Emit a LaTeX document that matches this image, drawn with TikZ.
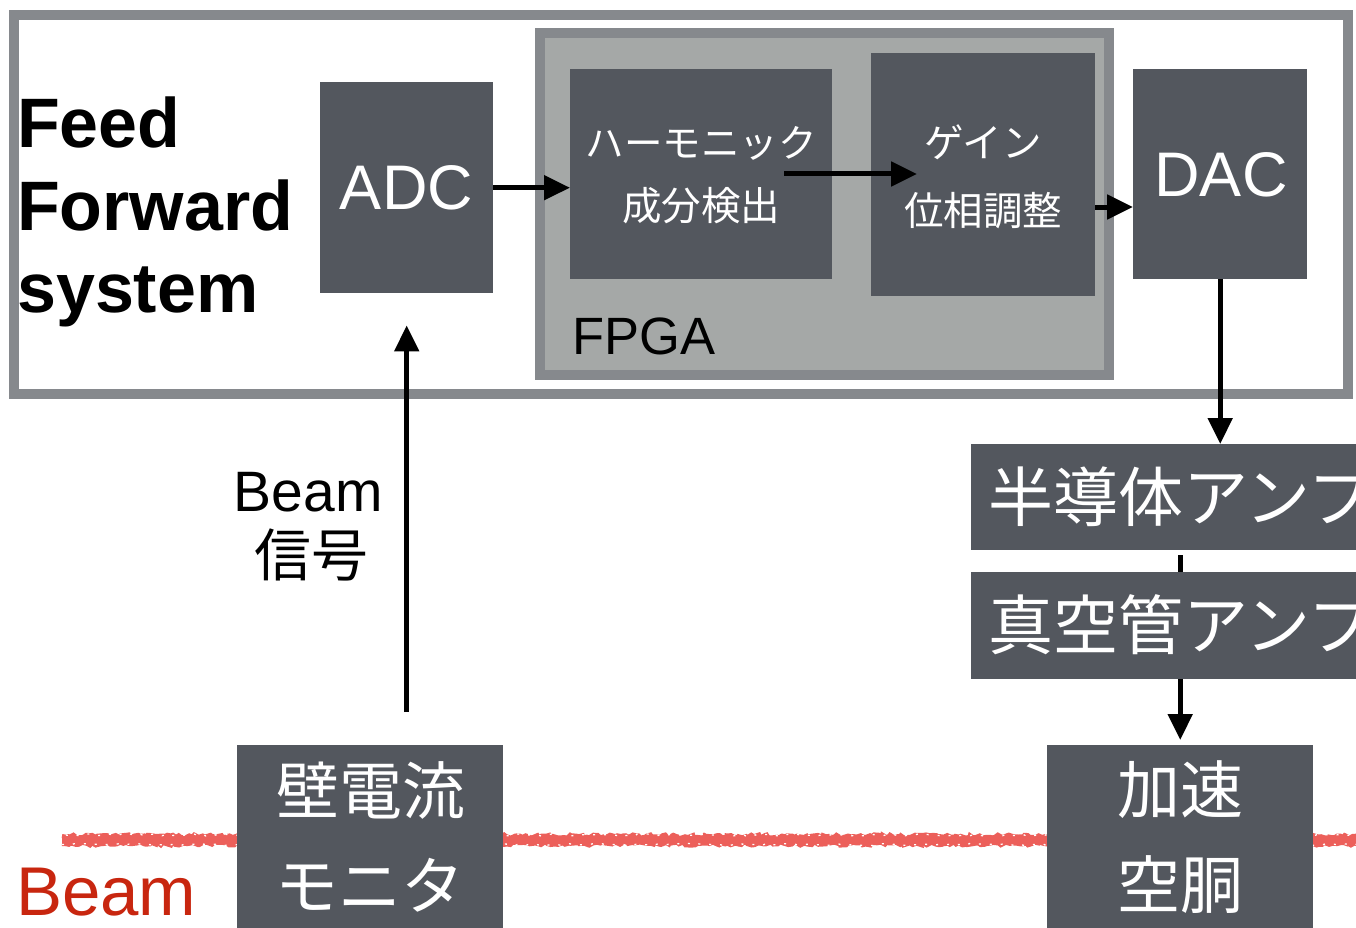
\documentclass[tikz,border=0pt]{standalone}
\usepackage{fontspec}
\setmainfont{Liberation Sans}
\newfontfamily\jp{Noto Sans CJK JP}
\usetikzlibrary{arrows.meta,decorations.pathmorphing}
\definecolor{framegray}{HTML}{86898D}
\definecolor{fpgafill}{HTML}{A5A8A7}
\definecolor{boxdark}{HTML}{53575E}
\definecolor{beamred}{HTML}{EC5F5A}
\definecolor{beamtext}{HTML}{C8260F}
\tikzset{
  darkbox/.style={fill=boxdark, draw=none, anchor=north west, inner sep=0pt},
  wtxt/.style={text=white, inner sep=0pt},
  arr/.style={line width=5pt, -{Triangle[length=26pt,width=24pt]}},
  plainline/.style={line width=5pt},
  rough/.style={beamred, line width=4pt, decorate, decoration={random steps, segment length=3pt, amplitude=1.6pt}},
  speck/.style={white, line width=1.3pt, dash pattern=on 2pt off 9pt, decorate, decoration={random steps, segment length=4pt, amplitude=1pt}},
}
\begin{document}
\begin{tikzpicture}[x=1pt,y=-1pt]
\useasboundingbox (0,0) rectangle (1356,928);
\clip (0,0) rectangle (1356,928);
% outer system frame
\draw[framegray, line width=10pt, fill=white] (14,15) rectangle (1348,394);
% FPGA frame
\draw[framegray, line width=10pt, fill=fpgafill] (540,33.5) rectangle (1109,375);
% beam line
\coordinate (bl) at (62,840);
\coordinate (br) at (1370,840);
\draw[beamred, line width=8pt] (bl) -- (br);
\draw[rough] ([yshift=-4pt]bl) -- ([yshift=-4pt]br);
\draw[rough] ([yshift=4pt]bl) -- ([yshift=4pt]br);
\draw[speck] ([yshift=-4.5pt]bl) -- ([yshift=-4.5pt]br);
\draw[speck] ([yshift=5pt,xshift=4pt]bl) -- ([yshift=5pt]br);
% boxes
\node[darkbox, minimum width=173pt, minimum height=211pt] (adc) at (320,82) {};
\node[darkbox, minimum width=262pt, minimum height=210pt] (harm) at (570,69) {};
\node[darkbox, minimum width=224pt, minimum height=243pt] (gain) at (871,53) {};
\node[darkbox, minimum width=174pt, minimum height=210pt] (dac) at (1133,69) {};
\node[darkbox, minimum width=420pt, minimum height=106pt] (amp1) at (971,444) {};
\node[darkbox, minimum width=420pt, minimum height=107pt] (amp2) at (971,572) {};
\node[darkbox, minimum width=266pt, minimum height=200pt] (wcm) at (237,745) {};
\node[darkbox, minimum width=266pt, minimum height=200pt] (cav) at (1047,745) {};
% texts
\node[anchor=base west, inner sep=0pt, font=\fontsize{70}{82}\selectfont\bfseries] (t1) at (17,148) {Feed};
\node[anchor=base west, inner sep=0pt, font=\fontsize{70}{82}\selectfont\bfseries] (t2) at (17,230) {Forward};
\node[anchor=base west, inner sep=0pt, font=\fontsize{70}{82}\selectfont\bfseries] (t3) at (17,312) {system};
\node[wtxt, font=\fontsize{63}{63}\selectfont] (adct) at (406.5,188) {ADC};
\node[wtxt, font=\fontsize{63}{63}\selectfont] (dact) at (1221,175) {DAC};
\node[wtxt, font=\jp\fontsize{38.5}{38.5}\selectfont] (h1) at (701,143) {ハーモニック};
\node[wtxt, font=\jp\fontsize{39.5}{39.5}\selectfont] (h2) at (701,206) {成分検出};
\node[wtxt, font=\jp\fontsize{39.5}{39.5}\selectfont] (g1) at (983,142) {ゲイン};
\node[wtxt, font=\jp\fontsize{39.5}{39.5}\selectfont] (g2) at (983,211) {位相調整};
\node[anchor=base west, inner sep=0pt, font=\fontsize{52.5}{52.5}\selectfont] (fpgat) at (572,354) {FPGA};
\node[anchor=east, inner sep=0pt, font=\fontsize{57}{57}\selectfont] (bs1) at (383,492) {Beam};
\node[anchor=east, inner sep=0pt, font=\jp\fontsize{57}{57}\selectfont] (bs2) at (369,555) {信号};
\node[wtxt, anchor=west, font=\jp\fontsize{65}{65}\selectfont] (a1t) at (988,497) {半導体アンプ};
\node[wtxt, anchor=west, font=\jp\fontsize{65}{65}\selectfont] (a2t) at (988,625) {真空管アンプ};
\node[wtxt, font=\jp\fontsize{63}{63}\selectfont] (w1) at (371,790) {壁電流};
\node[wtxt, font=\jp\fontsize{63}{63}\selectfont] (w2) at (370,885) {モニタ};
\node[wtxt, font=\jp\fontsize{63}{63}\selectfont] (c1) at (1180,790) {加速};
\node[wtxt, font=\jp\fontsize{63}{63}\selectfont] (c2) at (1180,885) {空胴};
\node[anchor=base west, inner sep=0pt, text=beamtext, font=\fontsize{69}{69}\selectfont] (beamt) at (16,915) {Beam};
% connectors
\coordinate (hs) at (784,174);
\coordinate (ge) at (917,174);
\coordinate (gd) at (1110,207);
\draw[arr] (adc.east) -- (adc.east -| harm.west);
\draw[arr] (hs) -- (ge);
\draw[arr] (gain.east |- gd) -- (dac.west |- gd);
\draw[arr] (dac.south) -- (amp1.north -| dac.south);
\draw[plainline, shorten <=5pt] (amp1.south -| cav.north) -- (amp2.north -| cav.north);
\draw[arr, shorten >=5pt] (amp2.south -| cav.north) -- (cav.north);
\draw[arr, shorten <=33pt, shorten >=32pt] (wcm.north -| adc.south) -- (adc.south);
\end{tikzpicture}
\end{document}
